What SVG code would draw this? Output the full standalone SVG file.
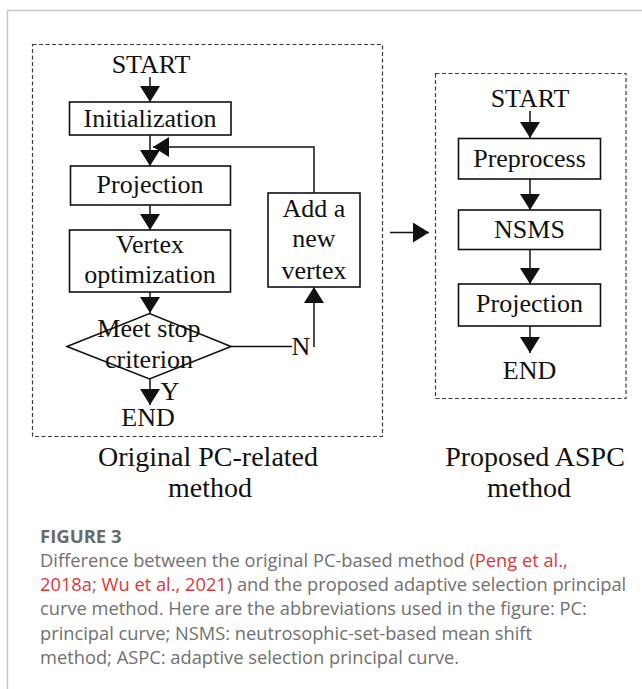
<svg xmlns="http://www.w3.org/2000/svg" width="642" height="689" viewBox="0 0 642 689">
  <style>
    .bg { fill: #ffffff; }
    .frame { fill: none; stroke: #c8c8c8; stroke-width: 1.5; }
    .group { fill: none; stroke: #3a3a3a; stroke-width: 1.2; stroke-dasharray: 4 2.5; }
    .box { fill: #ffffff; stroke: #111111; stroke-width: 1.6; }
    .wire { fill: none; stroke: #111111; stroke-width: 1.5; }
    .lbl { font-family: "Liberation Serif", "Times New Roman", serif; font-size: 26px; fill: #111111; text-anchor: middle; }
    .title { font-family: "Liberation Serif", "Times New Roman", serif; font-size: 28px; fill: #111111; text-anchor: middle; }
    .cap { font-family: "Open Sans", "Noto Sans", sans-serif; font-size: 18.3px; fill: #707070; }
    .caphead { font-family: "Open Sans", "Noto Sans", sans-serif; font-size: 18.5px; font-weight: bold; fill: #6a6a6a; }
    .ref { fill: #e0343c; }
  </style>
  <defs>
    <marker id="head" viewBox="0 0 16 20" refX="16" refY="10" markerWidth="16" markerHeight="20" markerUnits="userSpaceOnUse" orient="auto">
      <path d="M0,0 L16,10 L0,20 Z" fill="#111111"/>
    </marker>
  </defs>

  <rect class="bg" x="0" y="0" width="642" height="689"/>
  <!-- page frame: top and left rules -->
  <path class="frame" d="M7.5,689 V10.5 H642"/>

  <!-- method groupings -->
  <rect id="group-original" class="group" x="32.5" y="44.5" width="350" height="392"/>
  <rect id="group-proposed" class="group" x="435.5" y="73.5" width="190.5" height="325"/>

  <!-- connectors -->
  <g id="connectors">
    <line class="wire" x1="150" y1="77" x2="150" y2="102" marker-end="url(#head)"/>
    <line class="wire" x1="150" y1="135" x2="150" y2="166" marker-end="url(#head)"/>
    <polyline class="wire" points="314,193 314,147 153,147" marker-end="url(#head)"/>
    <line class="wire" x1="150" y1="205" x2="150" y2="230" marker-end="url(#head)"/>
    <line class="wire" x1="150" y1="292" x2="150" y2="313" marker-end="url(#head)"/>
    <line class="wire" x1="231" y1="346.5" x2="292" y2="346.5"/>
    <line class="wire" x1="314" y1="347" x2="314" y2="287" marker-end="url(#head)"/>
    <line class="wire" x1="150" y1="379" x2="150" y2="405" marker-end="url(#head)"/>
    <line class="wire" x1="390" y1="232.5" x2="429" y2="232.5" marker-end="url(#head)"/>
    <line class="wire" x1="530" y1="111" x2="530" y2="138" marker-end="url(#head)"/>
    <line class="wire" x1="530" y1="179" x2="530" y2="210" marker-end="url(#head)"/>
    <line class="wire" x1="530" y1="249.5" x2="530" y2="284" marker-end="url(#head)"/>
    <line class="wire" x1="530" y1="326" x2="530" y2="353" marker-end="url(#head)"/>
    <text class="lbl" x="301" y="355">N</text>
    <text class="lbl" x="170" y="400">Y</text>
  </g>

  <!-- original PC-related flow -->
  <g id="start-a"><text class="lbl" x="151" y="73">START</text></g>
  <g id="init">
    <rect class="box" x="69.5" y="102" width="161.5" height="33"/>
    <text class="lbl" x="150" y="127">Initialization</text>
  </g>
  <g id="proj-a">
    <rect class="box" x="70.5" y="166" width="160" height="39"/>
    <text class="lbl" x="150" y="193">Projection</text>
  </g>
  <g id="vertex-opt">
    <rect class="box" x="69.5" y="230" width="161" height="62"/>
    <text class="lbl" x="150" y="253">Vertex</text>
    <text class="lbl" x="150" y="283">optimization</text>
  </g>
  <g id="add-vertex">
    <rect class="box" x="268" y="193" width="92" height="94"/>
    <text class="lbl" x="314" y="217">Add a</text>
    <text class="lbl" x="314" y="247">new</text>
    <text class="lbl" x="314" y="279">vertex</text>
  </g>
  <g id="stop-check">
    <polygon class="box" style="fill:none" points="67,346.5 149.5,313.5 231,346.5 149.5,379"/>
    <text class="lbl" x="149" y="337">Meet stop</text>
    <text class="lbl" x="149" y="368">criterion</text>
  </g>
  <g id="end-a"><text class="lbl" x="148" y="426">END</text></g>

  <!-- proposed ASPC flow -->
  <g id="start-b"><text class="lbl" x="530" y="107">START</text></g>
  <g id="preprocess">
    <rect class="box" x="458.5" y="138.5" width="142" height="40.5"/>
    <text class="lbl" x="529.5" y="167">Preprocess</text>
  </g>
  <g id="nsms">
    <rect class="box" x="458.5" y="210" width="142" height="39.5"/>
    <text class="lbl" x="529.5" y="237.5">NSMS</text>
  </g>
  <g id="proj-b">
    <rect class="box" x="458.5" y="284" width="142" height="42"/>
    <text class="lbl" x="529.5" y="312">Projection</text>
  </g>
  <g id="end-b"><text class="lbl" x="529.5" y="378.5">END</text></g>

  <!-- group titles -->
  <text class="title" x="208" y="466">Original PC-related</text>
  <text class="title" x="210" y="497">method</text>
  <text class="title" x="535" y="466">Proposed ASPC</text>
  <text class="title" x="529" y="497">method</text>

  <!-- caption -->
  <text class="caphead" x="40" y="543">FIGURE 3</text>
  <text class="cap" x="40" y="567">Difference between the original PC-based method (<tspan class="ref">Peng et al.,</tspan></text>
  <text class="cap" x="40" y="591"><tspan class="ref">2018a</tspan>; <tspan class="ref">Wu et al., 2021</tspan>) and the proposed adaptive selection principal</text>
  <text class="cap" x="40" y="615">curve method. Here are the abbreviations used in the figure: PC:</text>
  <text class="cap" x="40" y="639.5">principal curve; NSMS: neutrosophic-set-based mean shift</text>
  <text class="cap" x="40" y="663.5">method; ASPC: adaptive selection principal curve.</text>
</svg>
